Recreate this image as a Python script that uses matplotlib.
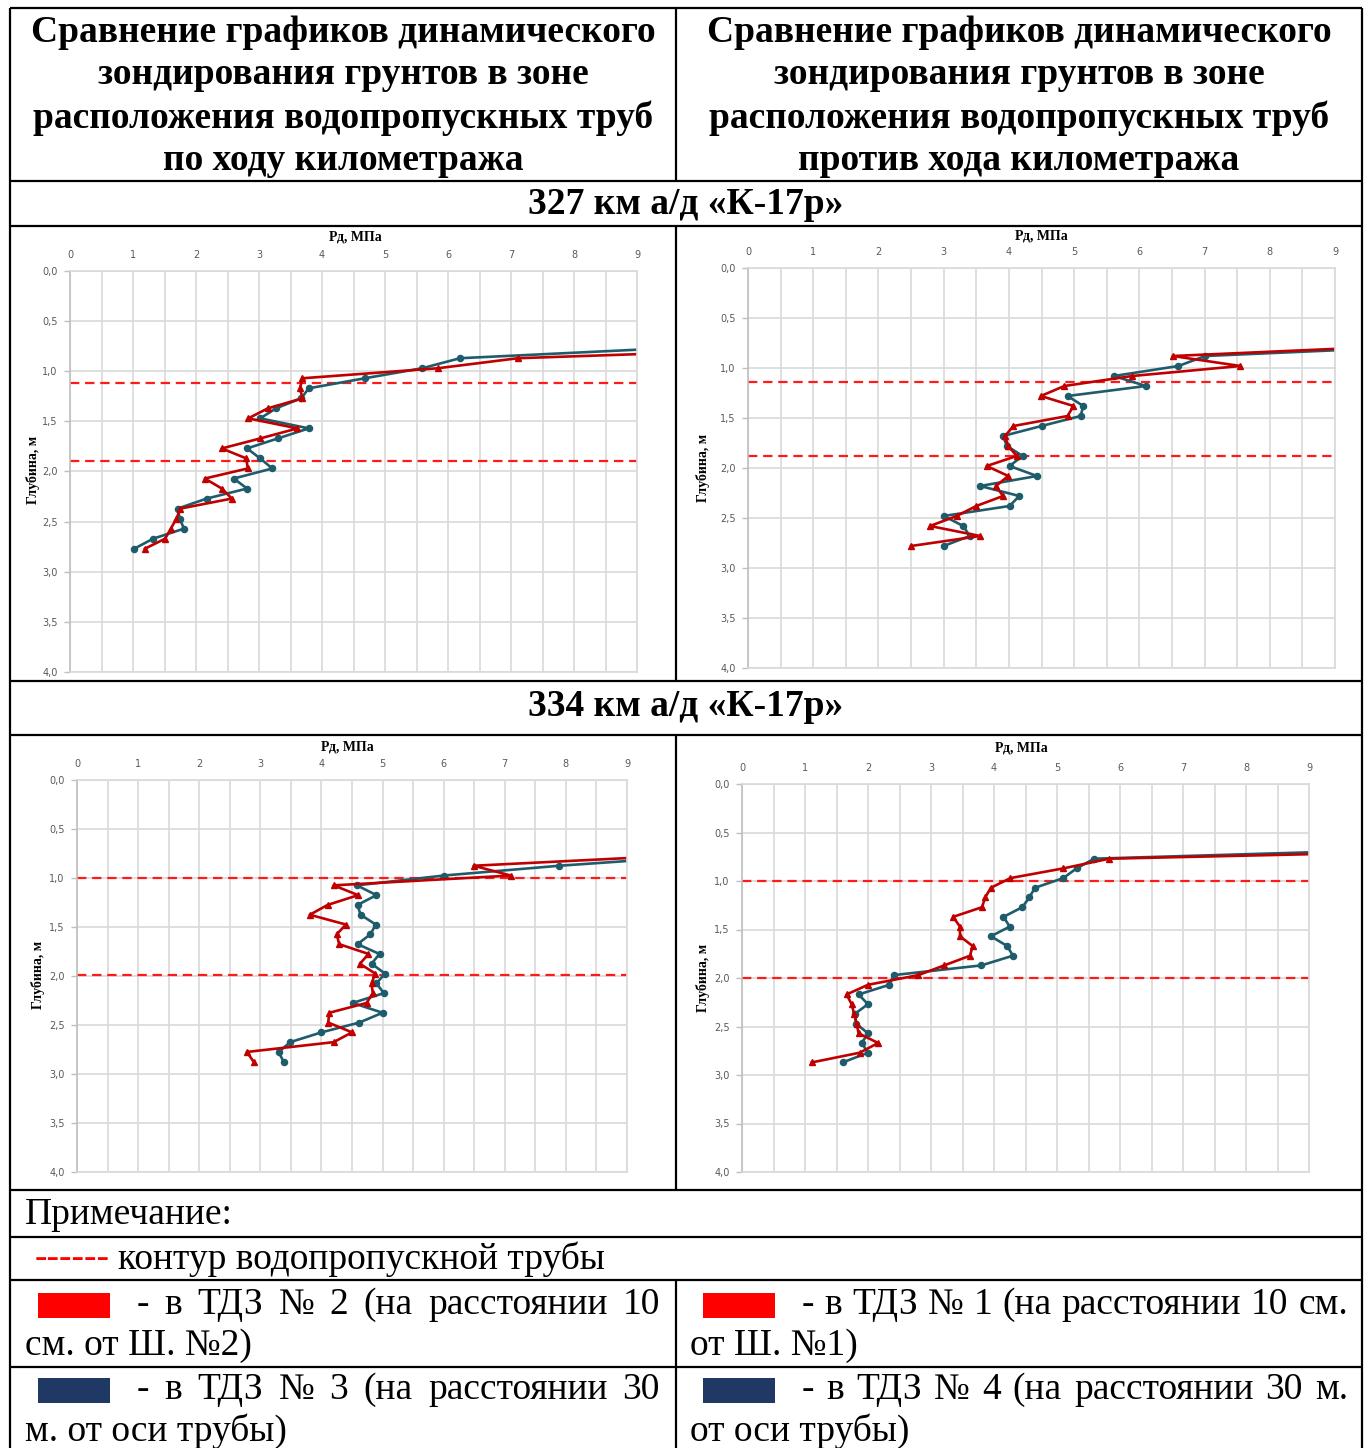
import matplotlib.pyplot as plt
from matplotlib.ticker import MultipleLocator, FuncFormatter

W, H = 1370, 1448

# Глубина, м  /  Рд, МПа  -- 327 км, по ходу километража
depth_a = [0.77, 0.87, 0.97, 1.07, 1.17, 1.27, 1.37, 1.47, 1.57, 1.67, 1.77,
           1.87, 1.97, 2.07, 2.17, 2.27, 2.37, 2.47, 2.57, 2.67, 2.77]
tdz3_a = [9.5, 6.19, 5.59, 4.68, 3.79, 3.67, 3.27, 3.02, 3.79, 3.30, 2.81,
          3.02, 3.21, 2.60, 2.81, 2.17, 1.71, 1.74, 1.81, 1.32, 1.02]
tdz2_a = [11.8, 7.11, 5.84, 3.69, 3.65, 3.69, 3.14, 2.83, 3.61, 3.02, 2.41,
          2.80, 2.82, 2.14, 2.41, 2.57, 1.75, 1.69, 1.60, 1.51, 1.19]
pipe_a = [1.12, 1.90]

# 327 км, против хода километража
depth_b = [0.78, 0.88, 0.98, 1.08, 1.18, 1.28, 1.38, 1.48, 1.58, 1.68, 1.78,
           1.88, 1.98, 2.08, 2.18, 2.28, 2.38, 2.48, 2.58, 2.68, 2.78]
tdz4_b = [10.5, 7.01, 6.60, 5.61, 6.10, 4.90, 5.14, 5.10, 4.50, 3.91, 3.97,
          4.21, 4.01, 4.43, 3.56, 4.16, 4.01, 3.00, 3.30, 3.40, 3.00]
tdz1_b = [10.0, 6.51, 7.55, 5.89, 4.85, 4.49, 4.99, 4.90, 4.07, 3.94, 3.99,
          4.12, 3.66, 3.99, 3.80, 3.91, 3.50, 3.20, 2.79, 3.56, 2.50]
pipe_b = [1.14, 1.88]

# 334 км, по ходу километража
depth_c = [0.775, 0.875, 0.975, 1.075, 1.175, 1.275, 1.375, 1.475, 1.575, 1.675, 1.775,
           1.875, 1.975, 2.075, 2.175, 2.275, 2.375, 2.475, 2.575, 2.675, 2.775, 2.875]
tdz3_c = [10.2, 7.89, 6.00, 4.58, 4.90, 4.59, 4.64, 4.89, 4.80, 4.59, 4.95,
          4.82, 5.04, 4.90, 5.02, 4.51, 5.00, 4.62, 4.00, 3.49, 3.30, 3.38]
tdz2_c = [9.7, 6.49, 7.10, 4.20, 4.60, 4.10, 3.81, 4.40, 4.25, 4.29, 4.77,
          4.63, 4.88, 4.82, 4.84, 4.74, 4.13, 4.11, 4.50, 4.20, 2.78, 2.89]
pipe_c = [1.0, 1.99]

# 334 км, против хода километража
depth_d = [0.67, 0.77, 0.87, 0.97, 1.07, 1.17, 1.27, 1.37, 1.47, 1.57, 1.67, 1.77,
           1.87, 1.97, 2.07, 2.17, 2.27, 2.37, 2.47, 2.57, 2.67, 2.77, 2.87]
tdz4_d = [10.8, 5.59, 5.31, 5.10, 4.65, 4.56, 4.45, 4.15, 4.25, 3.95, 4.21, 4.30,
          3.80, 2.41, 2.34, 1.85, 2.00, 1.79, 1.81, 2.00, 1.90, 2.00, 1.60]
tdz1_d = [12.7, 5.83, 5.10, 4.26, 3.95, 3.86, 3.81, 3.35, 3.46, 3.46, 3.66, 3.62,
          3.21, 2.80, 2.00, 1.66, 1.74, 1.78, 1.82, 1.85, 2.16, 1.87, 1.11]
pipe_d = [1.0, 2.0]

x_ticks = [0, 1, 2, 3, 4, 5, 6, 7, 8, 9]

head_lines = ["Сравнение графиков динамического",
              "зондирования грунтов в зоне",
              "расположения водопропускных труб"]
head_left = head_lines + ["по ходу километража"]
head_right = head_lines + ["против хода километража"]

TEAL = '#1f5c6b'
RED = '#c00000'
SERIF = 'Liberation Serif'

fig = plt.figure(figsize=(W / 100, H / 100), dpi=100)

# холст в пикселях для таблицы и подписей
bg = fig.add_axes([0, 0, 1, 1])
bg.set_xlim(0, W)
bg.set_ylim(H, 0)
bg.axis('off')

def hline(y, x0=10, x1=1362):
    bg.plot([x0, x1], [y, y], color='black', lw=1.6, solid_capstyle='butt')

def vline(x, y0, y1):
    bg.plot([x, x], [y0, y1], color='black', lw=1.6, solid_capstyle='butt')

for y in [8, 181, 226, 681, 735, 1190, 1237, 1280, 1367]:
    hline(y)
vline(10, 8, H)
vline(1362, 8, H)
vline(676, 8, 181)
vline(676, 226, 681)
vline(676, 735, 1190)
vline(676, 1280, H)

# заголовки
HEAD = dict(ha='center', va='center', family=SERIF, fontweight='bold', fontsize=27)
for i, (l, r) in enumerate(zip(head_left, head_right)):
    y = 32 + 43 * i
    bg.text(343, y, l, **HEAD)
    bg.text(1019, y, r, **HEAD)

bg.text(686, 204, "327 км а/д «К-17р»", **HEAD)
bg.text(686, 706, "334 км а/д «К-17р»", **HEAD)


def chart(box, depth, blue, red, pipe, xlab, ylab):
    x0, y0, x1, y1 = box
    ax = fig.add_axes([x0 / W, 1 - y1 / H, (x1 - x0) / W, (y1 - y0) / H])
    ax.set_xlim(0, 9)
    ax.set_ylim(4, 0)
    ax.set_xticks(x_ticks)
    ax.xaxis.set_minor_locator(MultipleLocator(0.5))
    ax.yaxis.set_major_locator(MultipleLocator(0.5))
    ax.yaxis.set_major_formatter(FuncFormatter(lambda v, p: f"{v:.1f}".replace('.', ',')))
    ax.xaxis.tick_top()
    ax.grid(axis='x', which='both', color='#d9d9d9', lw=1.2)
    ax.grid(axis='y', color='#d9d9d9', lw=1.2)
    ax.set_axisbelow(True)
    ax.tick_params(axis='x', which='both', length=0, labelsize=7,
                   labelcolor='#595959', pad=8)
    ax.tick_params(axis='y', length=4, color='#bfbfbf', width=1,
                   labelsize=7, labelcolor='#595959', pad=5)
    for side, sp in ax.spines.items():
        sp.set_color('#bfbfbf' if side == 'left' else '#d9d9d9')
        sp.set_linewidth(1.2)
    for d in pipe:
        ax.axhline(d, color='#ff1a1a', lw=1.6, ls=(0, (4.2, 2.6)))
    ax.plot(blue, depth, color=TEAL, lw=1.9, marker='o', ms=4.4)
    ax.plot(red, depth, color=RED, lw=1.9, marker='^', ms=4.8)
    bg.text(xlab[0], xlab[1], "Рд, МПа", ha='center', va='center',
            family=SERIF, fontweight='bold', fontsize=10)
    bg.text(ylab[0], ylab[1], "Глубина, м", ha='center', va='center', rotation=90,
            family=SERIF, fontweight='bold', fontsize=10)


chart((70, 271, 637, 672), depth_a, tdz3_a, tdz2_a, pipe_a, (355, 237), (33, 470))
chart((748, 268, 1335, 668), depth_b, tdz4_b, tdz1_b, pipe_b, (1041, 236), (703, 468))
chart((77, 780, 627, 1172), depth_c, tdz3_c, tdz2_c, pipe_c, (347, 747), (38, 975))
chart((742, 784, 1309, 1172), depth_d, tdz4_d, tdz1_d, pipe_d, (1021, 748), (703, 978))

# примечание
NOTE = dict(family=SERIF, fontsize=27, va='center')
bg.text(25, 1215, "Примечание:", ha='left', **NOTE)
bg.text(35, 1259, "------", ha='left', color='#ff0000', **NOTE)
bg.text(118, 1259, "контур водопропускной трубы", ha='left', **NOTE)

renderer = fig.canvas.get_renderer()


def justify(words, x0, x1, y):
    texts = [bg.text(0, y, w, ha='left', **NOTE) for w in words]
    widths = [t.get_window_extent(renderer).width for t in texts]
    gap = (x1 - x0 - sum(widths)) / (len(words) - 1)
    x = x0
    for t, w in zip(texts, widths):
        t.set_x(x)
        x += w + gap


def legend_cell(x, y, color, first, second):
    bg.add_patch(plt.Rectangle((x + 28, y - 12), 72, 25, color=color, lw=0))
    justify(first.split(), x + 127, x + 127 + (523 if x < 600 else 546), y)
    bg.text(x + 15, y + 41, second, ha='left', **NOTE)


legend_cell(10, 1305, '#ff0000', "- в ТДЗ № 2 (на расстоянии 10", "см. от Ш. №2)")
legend_cell(675, 1305, '#ff0000', "- в ТДЗ № 1 (на расстоянии 10 см.", "от Ш. №1)")
legend_cell(10, 1390, '#1f3864', "- в ТДЗ № 3 (на расстоянии 30", "м. от оси трубы)")
legend_cell(675, 1390, '#1f3864', "- в ТДЗ № 4 (на расстоянии 30 м.", "от оси трубы)")

fig.savefig('out.png', dpi=100)
